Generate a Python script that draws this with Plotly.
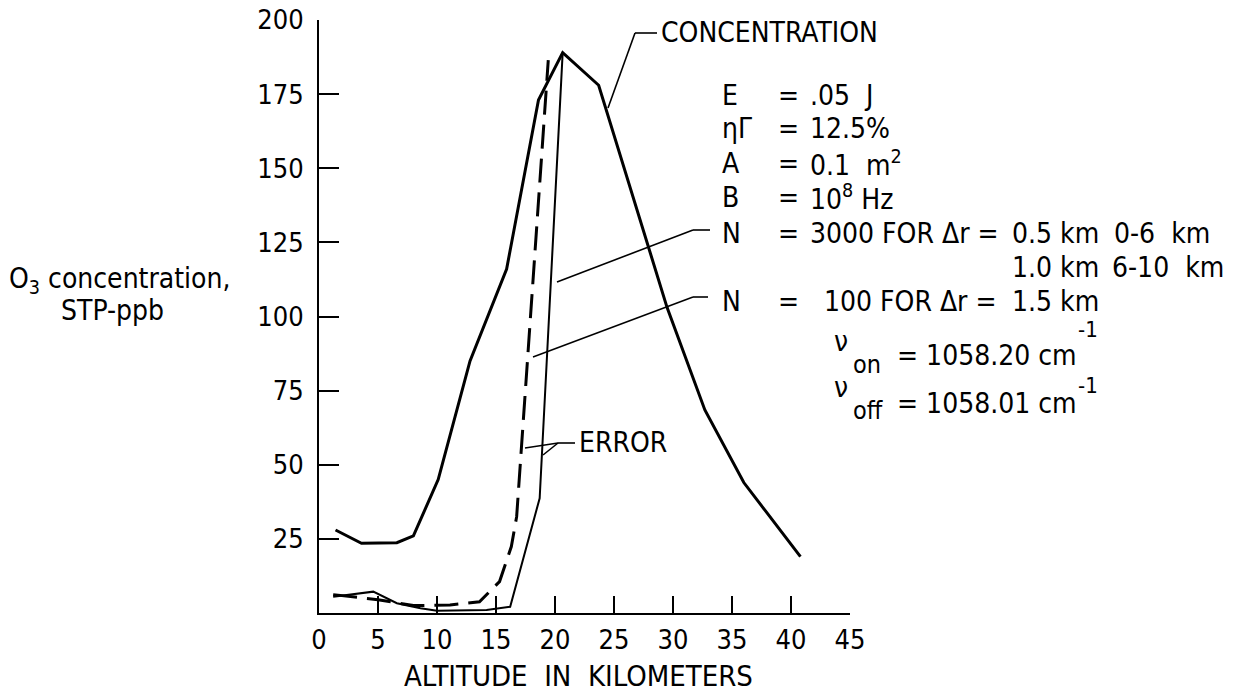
import plotly.graph_objects as go

# ---- data (altitude in km, O3 concentration / error in STP-ppb) ----
conc_alt = [1.4, 3.6, 6.6, 8.0, 10.1, 12.8, 15.9, 18.6, 20.65, 23.7, 29.5, 32.7, 36.0, 40.8]
conc_val = [28, 23.5, 23.7, 26, 45, 85, 116, 173, 189, 178, 103, 68.5, 44, 19]

err3000_alt = [1.2, 4.6, 6.6, 8.6, 10.0, 14.2, 16.2, 18.7, 20.65]
err3000_val = [5.5, 7.2, 3.3, 1.6, 0.8, 1.0, 2.1, 38.7, 189]

err100_alt = [1.2, 5.0, 8.0, 11.1, 13.6, 15.3, 16.3, 16.75, 19.43]
err100_val = [6.2, 4.5, 2.5, 2.7, 3.8, 10.6, 22.4, 32.5, 186.5]

x_ticks = [0, 5, 10, 15, 20, 25, 30, 35, 40, 45]
x_tick_text = ["0", "5", "10", "15", "20", "25", "30", "35", "40", "45"]
y_ticks = [25, 50, 75, 100, 125, 150, 175, 200]
y_tick_text = ["25", "50", "75", "100", "125", "150", "175", "200"]

FONT = "DejaVu Sans Condensed, DejaVu Sans, sans-serif"
FS = 28

# plot area in page pixels (page has an 8px body margin)
PX0, PX1, PY0, PY1 = 319, 850, 613, 20
W, H = 1245, 695
OFF = 8


def P(px, py):
    """page pixel -> paper coordinates"""
    return (px - PX0) / (PX1 - PX0), (PY0 - py) / (PY0 - PY1)


fig = go.Figure()
fig.add_trace(go.Scatter(x=conc_alt, y=conc_val, mode="lines",
                         line=dict(color="black", width=3), showlegend=False))
fig.add_trace(go.Scatter(x=err3000_alt, y=err3000_val, mode="lines",
                         line=dict(color="black", width=2), showlegend=False))
fig.add_trace(go.Scatter(x=err100_alt, y=err100_val, mode="lines",
                         line=dict(color="black", width=3, dash="24px,10px"), showlegend=False))

# leader lines (page pixels -> paper)
leaders = [
    (635, 33, 657, 33), (635, 33, 608, 108),                       # CONCENTRATION
    (558, 443, 575, 443), (558, 443, 525, 448), (558, 443, 543, 455),  # ERROR
    (693, 230, 710, 230), (693, 230, 557, 282),                    # N = 3000
    (693, 297, 708, 297), (693, 297, 533, 357),                    # N = 100
]
for a, b, c, d in leaders:
    x0, y0 = P(a, b)
    x1, y1 = P(c, d)
    fig.add_shape(type="line", xref="paper", yref="paper", x0=x0, y0=y0, x1=x1, y1=y1,
                  line=dict(color="black", width=1.6))


def txt(px, py, s, anchor="left", size=FS):
    x, y = P(px, py)
    fig.add_annotation(x=x, y=y, xref="paper", yref="paper", text=s, showarrow=False,
                       xanchor=anchor, yanchor="middle",
                       font=dict(family=FONT, size=size, color="black"))


txt(659, 33, "CONCENTRATION")
txt(577, 443, "ERROR")

rows = [96, 128, 163, 198, 233, 267, 301]
LC, EC, VC = 720, 776, 808
txt(LC, rows[0], "E");  txt(EC, rows[0], "="); txt(VC, rows[0], ".05  J")
txt(LC, rows[1], "ηΓ"); txt(EC, rows[1], "="); txt(VC, rows[1], "12.5%")
txt(LC, rows[2], "A");  txt(EC, rows[2], "="); txt(VC, rows[2], "0.1  m<sup>2</sup>")
txt(LC, rows[3], "B");  txt(EC, rows[3], "="); txt(VC, rows[3], "10<sup>8</sup> Hz")
txt(LC, rows[4], "N");  txt(EC, rows[4], "="); txt(VC, rows[4], "3000 FOR Δr =")
txt(1010, rows[4], "0.5 km"); txt(1112, rows[4], "0-6  km")
txt(1010, rows[5], "1.0 km"); txt(1110, rows[5], "6-10  km")
txt(LC, rows[6], "N");  txt(EC, rows[6], "="); txt(822, rows[6], "100 FOR Δr =")
txt(1010, rows[6], "1.5 km")

# nu lines: symbol, subscript, value, superscript
txt(832, 341, "ν");  txt(851, 364, "on", size=25)
txt(895, 355, "= 1058.20 cm"); txt(1076, 330, "-1", size=22)
txt(832, 387, "ν");  txt(851, 410, "off", size=25)
txt(895, 403, "= 1058.01 cm"); txt(1076, 385, "-1", size=22)

# axis titles
txt(120, 280, "O<sub>3</sub> concentration,", anchor="center")
txt(112, 310, "STP-ppb", anchor="center")
txt(578, 676, "ALTITUDE  IN  KILOMETERS", anchor="center", size=29)

fig.update_xaxes(range=[0, 45], tickvals=x_ticks, ticktext=x_tick_text,
                 ticks="inside", ticklen=17, tickwidth=2, tickcolor="black",
                 showline=True, linecolor="black", linewidth=2, showgrid=False, zeroline=False,
                 ticklabelstandoff=2, automargin=False, ticklabeloverflow="allow",
                 tickfont=dict(family=FONT, size=27, color="black"))
fig.update_yaxes(range=[0, 200], tickvals=y_ticks, ticktext=y_tick_text,
                 ticks="inside", ticklen=20, tickwidth=2, tickcolor="black",
                 showline=True, linecolor="black", linewidth=2, showgrid=False, zeroline=False,
                 ticklabelstandoff=8, automargin=False, ticklabeloverflow="allow",
                 tickfont=dict(family=FONT, size=27, color="black"))

fig.update_layout(width=W, height=H, plot_bgcolor="white", paper_bgcolor="white",
                  margin=dict(l=PX0 - OFF, r=W - (PX1 - OFF), t=PY1 - OFF, b=H - (PY0 - OFF)),
                  showlegend=False)

fig.write_html("out.html")
